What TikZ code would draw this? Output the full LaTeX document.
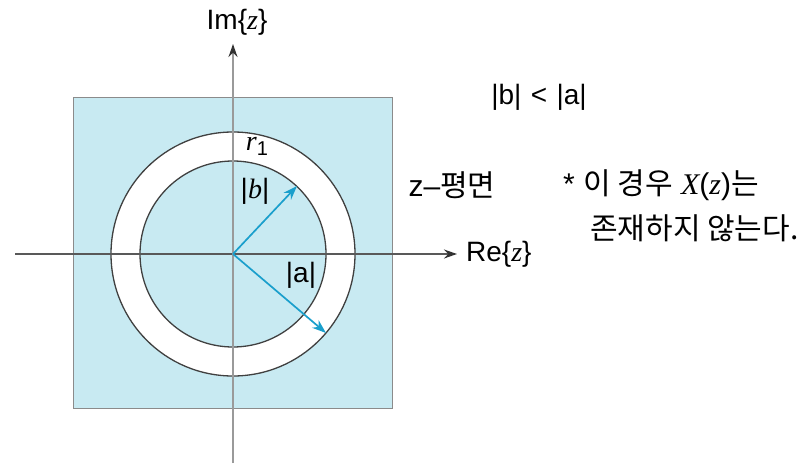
\documentclass[tikz,border=0pt]{standalone}
\usepackage{fontspec}
\setmainfont{Liberation Sans}
\newfontfamily\kor{Noto Sans CJK KR}
\newfontfamily\serifit[ItalicFont={Liberation Serif Italic}]{Liberation Serif}
\newcommand{\vi}[1]{{\serifit\itshape #1}}
\usetikzlibrary{arrows.meta}
\definecolor{planefill}{HTML}{C8EAF2}
\definecolor{vecblue}{HTML}{1A9FCC}
\definecolor{axisgray}{HTML}{9A9A9A}
\begin{document}
\begin{tikzpicture}[x=1pt, y=-1pt,
    axis/.style={draw=axisgray, line width=1.6pt, -{Stealth[length=13pt, width=9pt, black!80]}},
    vec/.style={draw=vecblue, line width=1.7pt, -{Stealth[length=14pt, width=10pt]}},
    ring/.style={draw=black!75, line width=1.3pt},
    lbl/.style={inner sep=0pt, font=\fontsize{28}{32}\selectfont},
    note/.style={inner sep=0pt, anchor=west, font=\fontsize{30}{34}\selectfont}]
    \useasboundingbox (0,0) rectangle (802,465);

    % plane and region
    \coordinate (O) at (233,254);
    \filldraw[fill=planefill, draw=axisgray!90!black, line width=1pt] (73,98) rectangle (392,408);
    \filldraw[fill=white, ring] (O) circle (122);
    \filldraw[fill=planefill, ring] (O) circle (93);

    % axes
    \coordinate (xstart) at (15,254);
    \coordinate (xend) at (457,254);
    \coordinate (ystart) at (233,463);
    \coordinate (yend) at (233,44);
    \draw[axis, draw=black!65] (xstart) -- (xend);
    \draw[axis] (ystart) -- (yend);
    \node[lbl, anchor=west] (re) at (466,254) {Re\{\vi{z}\}};
    \node[lbl] (im) at (237,22) {Im\{\vi{z}\}};

    % radii
    \coordinate (btip) at (297,186);
    \coordinate (atip) at (326,333);
    \draw[vec] (O) -- (btip);
    \draw[vec] (O) -- (atip);
    \node[lbl] (blabel) at (255,191) {|\vi{b}|};
    \node[lbl] (alabel) at (301,275) {|a|};
    \node[lbl] (r1) at (257,146) {\vi{r}\raisebox{-5pt}{\fontsize{20}{24}\selectfont 1}};

    % notes
    \node[lbl] (cond) at (539,97) {|b|\,\,<\,\,|a|};
    \node[note, anchor=center] (plane) at (452,185) {z\textendash{\kor 평면}};
    \node[note] (note1) at (563,185) {* {\kor 이 경우} \vi{X}(\vi{z}){\kor 는}};
    \node[note] (note2) at (590,228) {\kor 존재하지 않는다.};
\end{tikzpicture}
\end{document}
